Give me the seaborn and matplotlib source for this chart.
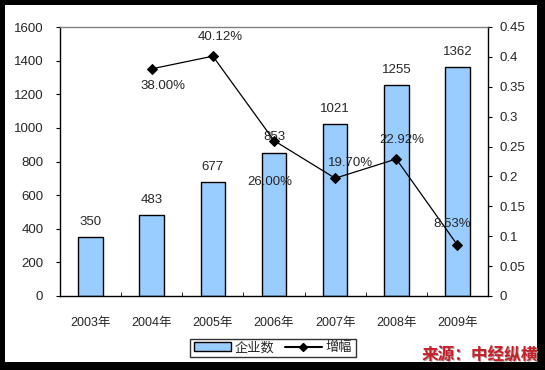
import matplotlib.pyplot as plt
import matplotlib.patches as mpatches
import matplotlib.lines as mlines
import numpy as np
import pandas as pd
import seaborn as sns

## datos
years = ['2003年', '2004年', '2005年', '2006年', '2007年', '2008年', '2009年']
companies = [350, 483, 677, 853, 1021, 1255, 1362]
growth_years = ['2004年', '2005年', '2006年', '2007年', '2008年', '2009年']
growth = [0.38, 0.4012, 0.26, 0.197, 0.2292, 0.0853]
growth_labels = ['38.00%', '40.12%', '26.00%', '19.70%', '22.92%', '8.53%']
# desplazamiento de las etiquetas (puntos)
growth_offsets = [(8, -12), (5, 14), (-3, -30), (11, 11), (4, 14), (-4, 15)]

sns.set_style('white')
plt.rcParams['font.family'] = ['Liberation Sans', 'Noto Sans CJK SC', 'DejaVu Sans']

fig = plt.figure(figsize=(5.45, 3.7), dpi=100)
fig.patch.set_facecolor('black')
fig.patches.append(mpatches.Rectangle((5 / 545, 8 / 370), 532 / 545, 357 / 370,
                                      transform=fig.transFigure, facecolor='white',
                                      edgecolor='none', zorder=-10))

ax = fig.add_axes([60 / 545, 1 - 296 / 370, 428 / 545, 269 / 370])
ax.set_facecolor('none')

## barras
df = pd.DataFrame({'year': years, 'n': companies})
sns.barplot(data=df, x='year', y='n', color='#99ccff', edgecolor='black',
            linewidth=1, width=0.4, saturation=1, ax=ax)
ax.set_ylim(0, 1600)
ax.set_yticks(np.arange(0, 1601, 200))
ax.set_xlim(-0.5, len(years) - 0.5)
ax.set_xlabel('')
ax.set_ylabel('')
ax.set_xticks(np.arange(len(years)))
ax.set_xticklabels(years, fontsize=9)
ax.set_xticks(np.arange(-0.5, len(years)), minor=True)
ax.tick_params(axis='x', which='major', length=0, pad=15)
ax.tick_params(axis='x', which='minor', direction='in', length=3, color='black', bottom=True)
ax.tick_params(axis='y', direction='out', length=3, color='black', labelsize=9.5, pad=9, left=True)
for i, v in enumerate(companies):
    ax.annotate(str(v), (i, v), xytext=(0, 11), textcoords='offset points',
                ha='center', va='center', fontsize=9.5)

for s in ['left', 'bottom', 'right']:
    ax.spines[s].set_color('black')
    ax.spines[s].set_linewidth(1)
ax.spines['top'].set_color('#808080')
ax.spines['top'].set_linewidth(1)

## linea de crecimiento
ax2 = ax.twinx()
xpos = [years.index(y) for y in growth_years]
sns.lineplot(x=xpos, y=growth, color='black', marker='D', markersize=5,
             markeredgecolor='black', linewidth=0.9, ax=ax2)
ax2.set_ylim(0, 0.45)
ax2.set_yticks(np.arange(0, 0.451, 0.05))
ax2.set_yticklabels(['0', '0.05', '0.1', '0.15', '0.2', '0.25', '0.3', '0.35', '0.4', '0.45'])
ax2.tick_params(axis='y', direction='out', length=3, color='black', labelsize=9.5, pad=5, right=True)
for s in ax2.spines.values():
    s.set_visible(False)
for x, v, lab, off in zip(xpos, growth, growth_labels, growth_offsets):
    ax2.annotate(lab, (x, v), xytext=off, textcoords='offset points',
                 ha='center', va='center', fontsize=9.5)

## leyenda
bar_h = mpatches.Patch(facecolor='#99ccff', edgecolor='black', label='企业数')
line_h = mlines.Line2D([], [], color='black', marker='D', markersize=4, label='增幅')
fig.legend(handles=[bar_h, line_h], loc='center', bbox_to_anchor=(273 / 545, 1 - 348 / 370),
           ncol=2, frameon=True, fancybox=False, edgecolor='black', fontsize=9.5,
           handlelength=2.8, handletextpad=0.3, columnspacing=0.8, borderpad=0.25)

## fuente
fig.text(481 / 545, 1 - 356 / 370, '来源：中经纵横', color='#b0a8a8', fontsize=12,
         fontweight='bold', ha='center', va='center', family=['Noto Sans CJK SC'])
fig.text(480 / 545, 1 - 355 / 370, '来源：中经纵横', color='#c8202a', fontsize=12,
         fontweight='bold', ha='center', va='center', family=['Noto Sans CJK SC'])

fig.savefig('out.png', dpi=100, facecolor=fig.get_facecolor())
